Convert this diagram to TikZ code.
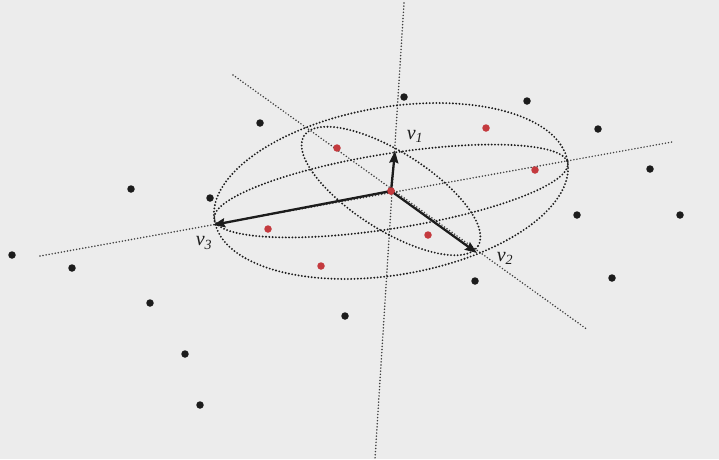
\documentclass[tikz,border=0pt]{standalone}
\usepackage{fontspec}
\setmainfont{Liberation Serif}
\usetikzlibrary{arrows.meta}
\definecolor{bg}{RGB}{236,236,236}
\definecolor{reddot}{RGB}{196,58,62}
\definecolor{ink}{RGB}{28,28,28}
\begin{document}
\begin{tikzpicture}[x=1pt,y=-1pt,
  axisline/.style={draw=ink!85, line width=1.7pt, line cap=round, dash pattern=on 0pt off 3.1pt},
  ellline/.style={draw=ink, line width=2.1pt, line cap=round, dash pattern=on 0pt off 3.3pt},
  vec/.style={draw=ink, line width=2.3pt, -{Stealth[length=12pt,width=9pt,inset=1.5pt]}},
  bdot/.style={circle, fill=ink, inner sep=0pt, minimum size=7.5pt},
  rdot/.style={circle, fill=reddot, inner sep=0pt, minimum size=7.5pt},
  lab/.style={font=\fontsize{20}{20}\selectfont\itshape, inner sep=0pt, text=ink}]
\fill[bg] (0,0) rectangle (719,459);
\useasboundingbox (0,0) rectangle (719,459);

% centre and vector tips
\coordinate (c) at (391,191);
\coordinate (t1) at (395,151);
\coordinate (t2) at (477,253);
\coordinate (t3) at (213,225);

% axis lines
\coordinate (a1s) at (404,3);
\coordinate (a1e) at (375,459);
\coordinate (a2s) at (40,256);
\coordinate (a2e) at (672,142);
\coordinate (a3s) at (233,75);
\coordinate (a3e) at (588,330);
\draw[axisline] (a1s) -- (a1e);
\draw[axisline] (a2s) -- (a2e);
\draw[axisline] (a3s) -- (a3e);

% ellipses
\draw[ellline, rotate around={9.5:(c)}] (c) ellipse [x radius=179, y radius=84];
\draw[ellline, rotate around={9:(c)}] (c) ellipse [x radius=179, y radius=37.5];
\draw[ellline, rotate around={-32.4:(c)}] (c) ellipse [x radius=103, y radius=39];

% vectors
\node[rdot] (o) at (c) {};
\draw[vec] (o.center) -- (t1);
\draw[vec] (o.center) -- (t2);
\draw[vec] (o.center) -- (t3);
\node[rdot] (o2) at (c) {};

% red points
\node[rdot] (r1) at (486,128) {};
\node[rdot] (r2) at (337,148) {};
\node[rdot] (r3) at (535,170) {};
\node[rdot] (r4) at (268,229) {};
\node[rdot] (r5) at (428,235) {};
\node[rdot] (r6) at (321,266) {};

% black points
\node[bdot] (b1) at (404,97) {};
\node[bdot] (b2) at (527,101) {};
\node[bdot] (b3) at (260,123) {};
\node[bdot] (b4) at (598,129) {};
\node[bdot] (b5) at (131,189) {};
\node[bdot] (b6) at (210,198) {};
\node[bdot] (b7) at (650,169) {};
\node[bdot] (b8) at (577,215) {};
\node[bdot] (b9) at (680,215) {};
\node[bdot] (b10) at (12,255) {};
\node[bdot] (b11) at (72,268) {};
\node[bdot] (b12) at (612,278) {};
\node[bdot] (b13) at (475,281) {};
\node[bdot] (b14) at (150,303) {};
\node[bdot] (b15) at (345,316) {};
\node[bdot] (b16) at (185,354) {};
\node[bdot] (b17) at (200,405) {};

% labels
\node[lab] (l1) at (415,136) {v\textsubscript{1}};
\node[lab] (l2) at (505,258) {v\textsubscript{2}};
\node[lab] (l3) at (204,243) {v\textsubscript{3}};
\end{tikzpicture}
\end{document}
